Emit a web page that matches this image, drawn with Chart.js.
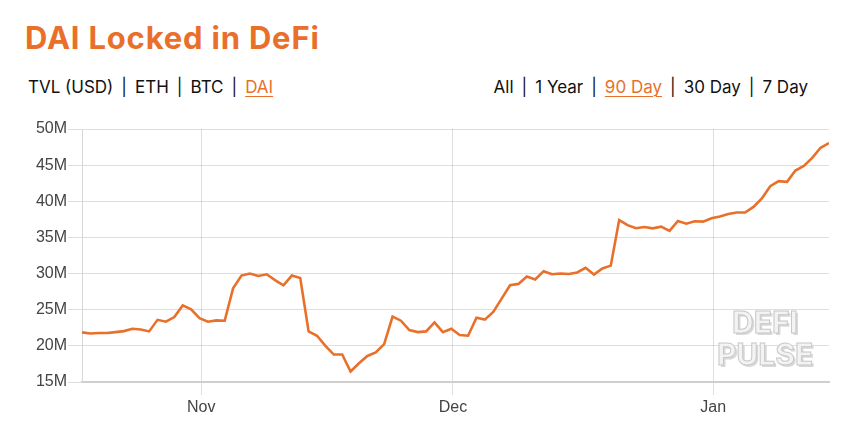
<!DOCTYPE html>
<html>
<head>
<meta charset="utf-8">
<script src="https://cdn.jsdelivr.net/npm/chart.js@4"></script>
<style>
    html, body { margin: 0; padding: 0; background: #fff; }
    body { width: 848px; height: 431px; position: relative; overflow: hidden; font-family: Inter, "Noto Sans", sans-serif; }
    #title { position: absolute; left: 25px; top: 22px; font-size: 31px; line-height: 31px; font-weight: 700; letter-spacing: 0.8px; color: #e9702b; white-space: nowrap; }
    .menu { position: absolute; top: 79px; font-size: 17px; line-height: 17px; color: #111; white-space: nowrap; }
    #units { left: 28px; }
    #ranges { right: 40px; }
    .menu .sep { margin: 0 8px; }
    .menu .on { color: #e9702b; text-decoration: underline; text-underline-offset: 3px; text-decoration-thickness: 1px; }
    #wrap { position: absolute; left: 0; top: 110px; width: 848px; height: 321px; }
</style>
</head>
<body>
<div id="title">DAI Locked in DeFi</div>
<div class="menu" id="units"></div>
<div class="menu" id="ranges"></div>
<div id="wrap"><canvas id="dai-chart"></canvas></div>
<script>
const unitOptions = ['TVL (USD)', 'ETH', 'BTC', 'DAI'];
const selectedUnit = 'DAI';
const rangeOptions = ['All', '1 Year', '90 Day', '30 Day', '7 Day'];
const selectedRange = '90 Day';

// daily samples, days counted from Nov 1 (first sample is mid Oct 17)
const firstSampleDay = -14.2;
const monthStartDays = [0, 30, 61];
const monthLabels = ['Nov', 'Dec', 'Jan'];
const yTicks = [15, 20, 25, 30, 35, 40, 45, 50];

// DAI locked, millions
const daiLocked = [
    21.86, 21.72, 21.77, 21.77, 21.90, 22.04, 22.37, 22.27, 22.00, 23.60,
    23.34, 23.98, 25.60, 25.05, 23.84, 23.34, 23.52, 23.47, 27.96, 29.72,
    30.00, 29.67, 29.90, 29.10, 28.38, 29.72, 29.40, 22.00, 21.40, 20.00,
    18.80, 18.80, 16.45, 17.60, 18.60, 19.10, 20.25, 24.04, 23.48, 22.19,
    21.90, 22.00, 23.25, 21.90, 22.37, 21.50, 21.40, 23.90, 23.63, 24.70,
    26.54, 28.39, 28.57, 29.60, 29.18, 30.33, 29.90, 30.00, 29.95, 30.15,
    30.80, 29.87, 30.70, 31.10, 37.40, 36.70, 36.27, 36.45, 36.26, 36.49,
    35.90, 37.28, 36.90, 37.23, 37.19, 37.65, 37.88, 38.25, 38.44, 38.44,
    39.22, 40.38, 42.09, 42.78, 42.69, 44.26, 44.90, 46.00, 47.40, 48.05,
];

function buildMenu(el, items, selected) {
    el.innerHTML = items.map(item => {
        const cls = item === selected ? ' class="on"' : '';
        return `<span${cls}>${item}</span>`;
    }).join('<span class="sep">|</span>');
}
buildMenu(document.getElementById('units'), unitOptions, selectedUnit);
buildMenu(document.getElementById('ranges'), rangeOptions, selectedRange);

const points = daiLocked.map((v, i) => ({ x: firstSampleDay + i, y: v }));

const watermark = {
    id: 'watermark',
    beforeDatasetsDraw(chart) {
        const ctx = chart.ctx;
        ctx.save();
        ctx.font = '700 30px Inter, sans-serif';
        ctx.textAlign = 'center';
        ctx.textBaseline = 'alphabetic';
        const lines = [['DEFI', 765, 223], ['PULSE', 765, 255]];
        lines.forEach(([txt, x, y]) => {
            ctx.fillStyle = '#d9d9d9';
            ctx.fillText(txt, x + 2, y + 2);
            ctx.fillStyle = '#f3f3f3';
            ctx.fillText(txt, x, y);
            ctx.strokeStyle = '#c8c8c8';
            ctx.lineWidth = 1;
            ctx.strokeText(txt, x, y);
        });
        ctx.restore();
    },
};

const chartCtx = document.getElementById('dai-chart').getContext('2d');
const daiChart = new Chart(chartCtx, {
    type: 'line',
    data: {
        datasets: [
            {
                label: 'DAI Locked',
                data: points,
                borderColor: '#e9702b',
                borderWidth: 2.6,
                pointRadius: 0,
                tension: 0,
                fill: false,
            },
        ],
    },
    options: {
        responsive: true,
        maintainAspectRatio: false,
        animation: false,
        layout: { padding: { top: 19, right: 19, left: 0, bottom: 9 } },
        plugins: {
            legend: { display: false },
            tooltip: { enabled: false },
        },
        scales: {
            x: {
                type: 'linear',
                min: firstSampleDay,
                max: firstSampleDay + daiLocked.length - 1,
                afterBuildTicks: scale => {
                    scale.ticks = monthStartDays.map(v => ({ value: v }));
                },
                afterFit: scale => { scale.height = 40; },
                ticks: {
                    callback: value => monthLabels[monthStartDays.indexOf(value)],
                    font: { family: '"Liberation Sans", Arial, sans-serif', size: 16 },
                    color: '#444',
                    padding: 3,
                    maxRotation: 0,
                },
                grid: { color: 'rgba(0,0,0,0.13)', tickLength: 13 },
                border: { color: '#cfcfcf', width: 2 },
            },
            y: {
                min: 15,
                max: 50,
                afterBuildTicks: scale => {
                    scale.ticks = yTicks.map(v => ({ value: v }));
                },
                afterFit: scale => { scale.width = 82; },
                ticks: {
                    callback: value => value + 'M',
                    font: { family: '"Liberation Sans", Arial, sans-serif', size: 16 },
                    color: '#444',
                    padding: 1,
                },
                grid: { color: 'rgba(0,0,0,0.13)', tickLength: 14 },
                border: { color: '#d6d6d6', width: 1 },
            },
        },
    },
    plugins: [watermark],
});
</script>
</body>
</html>
